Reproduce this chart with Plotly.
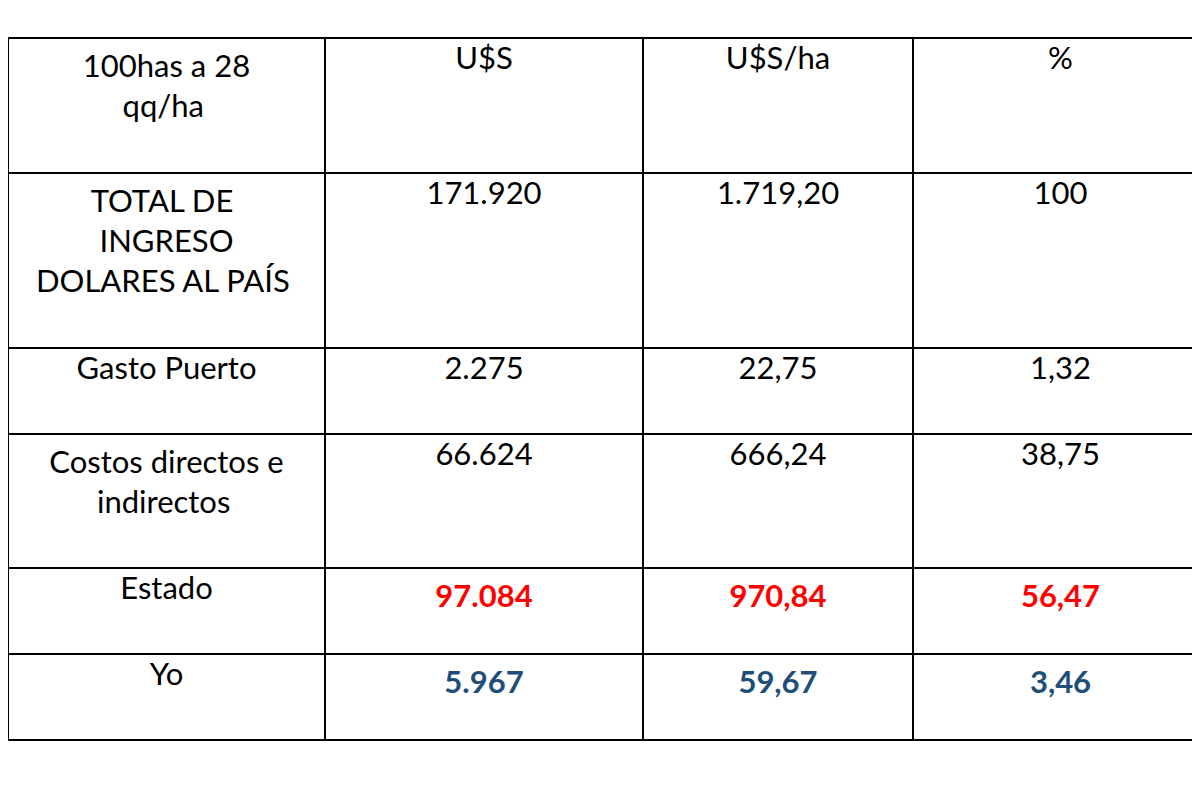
import plotly.graph_objects as go

NB = "\u00a0"


def pad(s, n):
    # nbsp padding so shorter lines sit centred under longer ones
    return NB * n + s + NB * n


header = ["100has a 28<br>" + pad("qq/ha", 5) + "<br> ", "U$S", "U$S/ha", "%"]
conceptos = [pad("TOTAL DE", 7) + "<br>" + pad("INGRESO", 8) + "<br>DOLARES AL PAÍS<br> ",
             "Gasto Puerto",
             "Costos directos e<br>" + pad("indirectos", 6) + "<br> ",
             "Estado", "Yo"]
usd = ["171.920", "2.275", "66.624", "<b>97.084</b>", "<b>5.967</b>"]
usd_ha = ["1.719,20", "22,75", "666,24", "<b>970,84</b>", "<b>59,67</b>"]
pct = ["100", "1,32", "38,75", "<b>56,47</b>", "<b>3,46</b>"]

row_colors = ["black", "black", "black", "#ff0000", "#1f4e79"]

fig = go.Figure(go.Table(
    columnwidth=[317, 318, 270, 295],
    header=dict(values=header, align="center", height=86,
                line=dict(color="black", width=2), fill_color="white",
                font=dict(family="Lato", size=31, color="black")),
    cells=dict(values=[conceptos, usd, usd_ha, pct], align="center", height=86,
               line=dict(color="black", width=2), fill_color="white",
               font=dict(family="Lato", size=31,
                         color=[["black"] * 5, row_colors, row_colors, row_colors])),
))
fig.update_layout(width=1200, height=800, margin=dict(l=0, r=0, t=30, b=0),
                  paper_bgcolor="white")
fig.write_html("out.html")
